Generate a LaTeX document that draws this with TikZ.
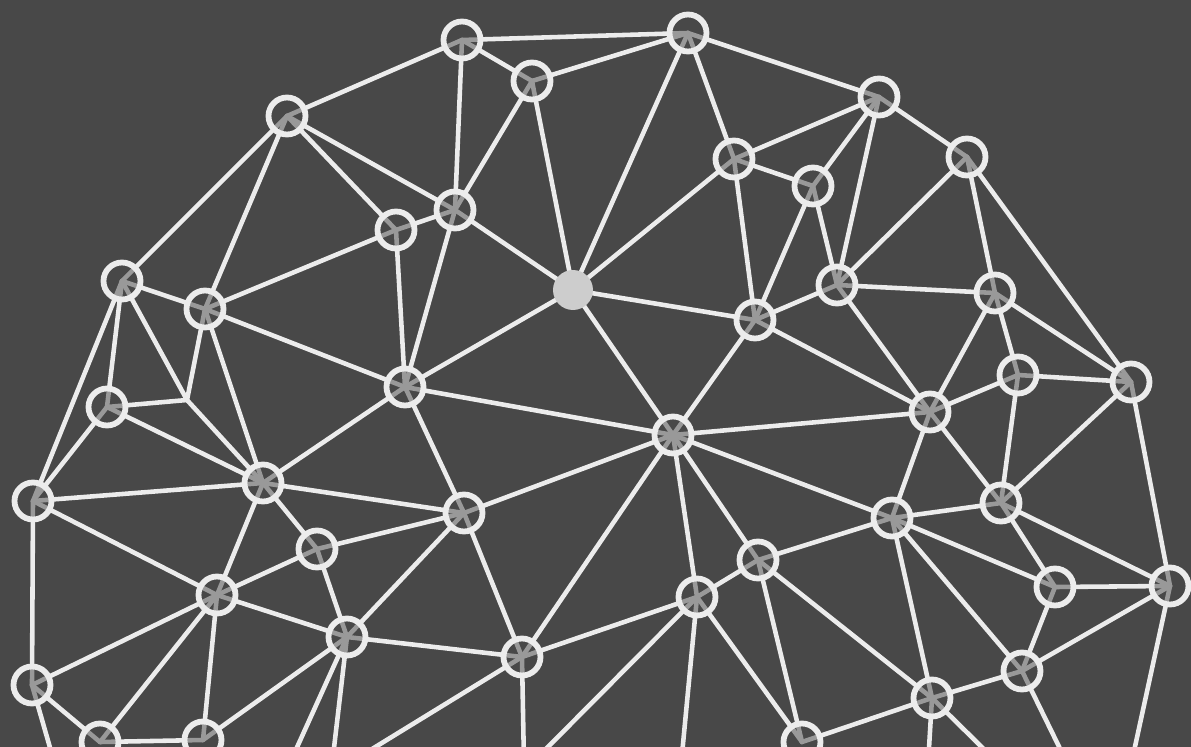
\documentclass[tikz,border=0pt]{standalone}
\definecolor{grund}{RGB}{72,72,72}
\definecolor{linie}{RGB}{236,236,236}
\definecolor{hub}{RGB}{205,205,205}
\pgfdeclarelayer{unten}
\pgfdeclarelayer{kanten}
\pgfsetlayers{unten,kanten,main}
\begin{document}
\begin{tikzpicture}[x=0.02cm, y=-0.02cm,
    knoten/.style={circle, minimum size=0.74cm, inner sep=0pt, draw=linie, line width=3.3pt, fill=grund, fill opacity=0.5, draw opacity=1},
    zentrum/.style={circle, minimum size=0.8cm, inner sep=0pt, fill=hub},
    kante/.style={draw=linie, line width=2.6pt, line cap=round}]
    \useasboundingbox (0,0) rectangle (1191,747);
    \begin{pgfonlayer}{unten}
        \fill[grund] (0,0) rectangle (1191,747);
    \end{pgfonlayer}
    \clip (0,0) rectangle (1191,747);

    % obere Reihe
    \node[knoten] (k1) at (462,40) {};
    \node[knoten] (k2) at (688,33) {};
    \node[knoten] (k3) at (532,81) {};
    \node[knoten] (k4) at (287,116) {};
    \node[knoten] (k5) at (879,97) {};
    \node[knoten] (k6) at (734,159) {};
    \node[knoten] (k7) at (967,157) {};
    \node[knoten] (k8) at (813,186) {};
    \node[knoten] (k9) at (455,210) {};
    \node[knoten] (k10) at (396,230) {};
    \node[zentrum] (k11) at (573,290) {};
    \node[knoten] (k12) at (122,281) {};
    \node[knoten] (k13) at (205,309) {};
    \node[knoten] (k14) at (837,285) {};
    \node[knoten] (k15) at (995,293) {};
    \node[knoten] (k16) at (755,320) {};
    % mittlere Reihe
    \node[knoten] (k17) at (405,387) {};
    \node[knoten] (k18) at (1018,375) {};
    \node[knoten] (k19) at (1131,382) {};
    \node[knoten] (k20) at (107,407) {};
    \node[knoten] (k21) at (930,412) {};
    \node[knoten] (k22) at (673,435) {};
    \node[knoten] (k23) at (33,501) {};
    \node[knoten] (k24) at (263,483) {};
    \node[knoten] (k25) at (464,513) {};
    \node[knoten] (k26) at (892,518) {};
    \node[knoten] (k27) at (1001,503) {};
    \node[knoten] (k28) at (317,549) {};
    \node[knoten] (k29) at (758,560) {};
    \node[knoten] (k30) at (1055,587) {};
    \node[knoten] (k31) at (1170,586) {};
    % untere Reihe
    \node[knoten] (k32) at (217,595) {};
    \node[knoten] (k33) at (697,597) {};
    \node[knoten] (k34) at (347,637) {};
    \node[knoten] (k35) at (522,657) {};
    \node[knoten] (k36) at (1022,671) {};
    \node[knoten] (k37) at (32,685) {};
    \node[knoten] (k38) at (932,698) {};
    \node[knoten] (k39) at (100,742) {};
    \node[knoten] (k40) at (203,740) {};
    \node[knoten] (k41) at (802,742) {};

    % Knick ohne Knoten, freie Enden am unteren Rand
    \coordinate (j) at (187,400);
    \coordinate (r1) at (1131,765);
    \coordinate (r2) at (530,765);
    \coordinate (r3) at (681,765);
    \coordinate (r4) at (289,765);
    \coordinate (r5) at (332,765);
    \coordinate (r6) at (346,765);
    \coordinate (r7) at (524,765);
    \coordinate (r8) at (1068,765);
    \coordinate (r9) at (55,765);
    \coordinate (r10) at (928,765);
    \coordinate (r11) at (1000,765);

    \begin{pgfonlayer}{kanten}
    \clip (0,0) rectangle (1191,747);
    \foreach \a/\b in {k1/k4, k1/k2, k1/k3, k1/k9, k2/k3, k2/k11, k2/k6, k2/k5,
        k3/k9, k3/k11, k4/k9, k4/k10, k4/k12, k4/k13, k5/k6, k5/k8, k5/k14, k5/k7,
        k6/k11, k6/k8, k6/k16, k7/k14, k7/k15, k7/k19, k8/k16, k8/k14,
        k9/k10, k9/k11, k9/k17, k10/k13, k10/k17, k11/k16, k11/k17, k11/k22,
        k12/k13, k12/k20, k12/k23, k12/j, k13/k17, k13/j, k13/k24,
        k14/k15, k14/k16, k14/k21, k15/k21, k15/k18, k15/k19, k16/k22, k16/k21,
        k17/k22, k17/k25, k17/k24, k18/k21, k18/k27, k18/k19, k19/k27, k19/k31,
        k20/j, k20/k24, k20/k23, j/k24, k21/k22, k21/k26, k21/k27,
        k22/k26, k22/k25, k22/k35, k22/k33, k22/k29, k23/k24, k23/k32, k23/k37,
        k24/k25, k24/k28, k24/k32, k25/k28, k25/k34, k25/k35,
        k26/k27, k26/k30, k26/k29, k26/k38, k26/k36, k27/k31, k27/k30,
        k28/k32, k28/k34, k29/k33, k29/k41, k29/k38, k30/k31, k30/k36,
        k31/k36, k31/r1, k32/k34, k32/k37, k32/k39, k32/k40,
        k33/k35, k33/k41, k33/r2, k33/r3, k34/k35, k34/k40, k34/r4, k34/r5,
        k35/r6, k35/r7, k36/k38, k36/r8, k37/k39, k37/r9,
        k38/k41, k38/r10, k38/r11, k39/k40}
        \draw[kante] (\a.center) -- (\b.center);
    \end{pgfonlayer}
\end{tikzpicture}
\end{document}
